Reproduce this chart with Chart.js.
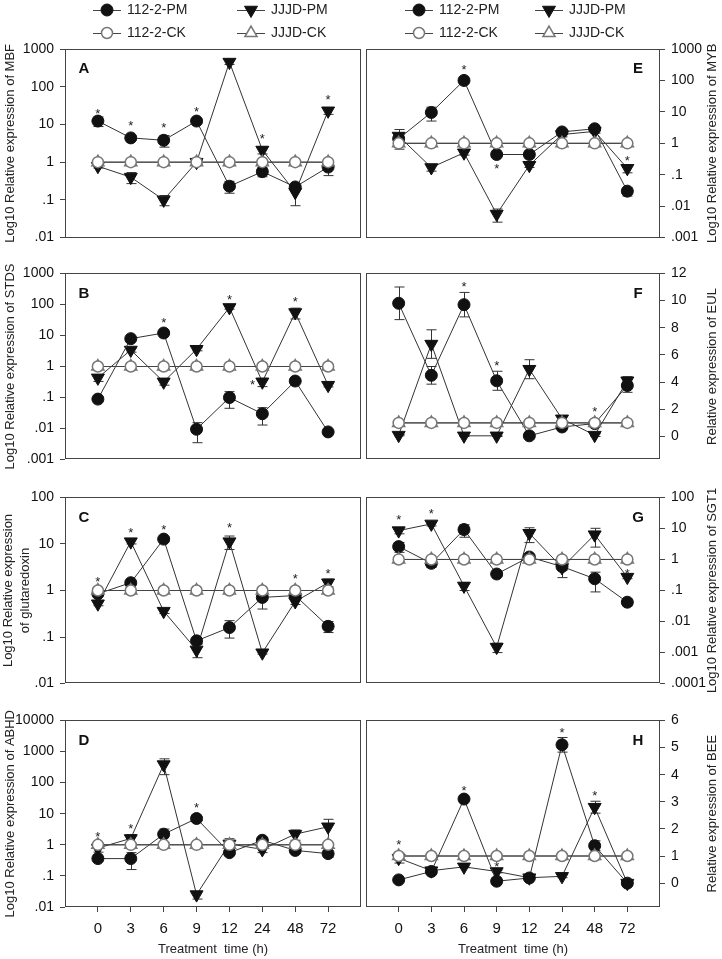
<!DOCTYPE html>
<html>
<head>
<meta charset="utf-8">
<script src="https://cdn.jsdelivr.net/npm/chart.js@4.4.0/dist/chart.umd.min.js"></script>
<style>
  html, body { margin: 0; padding: 0; background: #fff; }
  #page { position: relative; width: 722px; height: 959px; overflow: hidden; }
</style>
</head>
<body>
<div id="page"></div>
<script>
const timeLabels = ["0", "3", "6", "9", "12", "24", "48", "72"];
const ckLevel = [1, 1, 1, 1, 1, 1, 1, 1];
const logTicks = [0.0001, 0.001, 0.01, 0.1, 1, 10, 100, 1000, 10000];
const logTickText = [".0001", ".001", ".01", ".1", "1", "10", "100", "1000", "10000"];
const eulTicks = [0, 2, 4, 6, 8, 10, 12];
const beeTicks = [0, 1, 2, 3, 4, 5, 6];

// A - MBF
const mbf112 = [12.3, 4.4, 3.8, 12.3, 0.23, 0.56, 0.22, 0.74];
const mbf112Sd = [3.5, 0.6, 1.3, 1.5, 0.08, 0.15, 0.04, 0.3];
const mbfJjjd = [0.78, 0.4, 0.1, 1, 450, 2.1, 0.16, 23];
const mbfJjjdSd = [0.08, 0.13, 0.03, 0.1, 60, 0.45, 0.09, 4.5];
const mbfStars = [[0, 23], [1, 10.8], [2, 9.4], [3, 25], [5, 4.8], [7, 53]];

// B - STDS
const stds112 = [0.089, 7.9, 12, 0.0095, 0.1, 0.03, 0.34, 0.0078];
const stds112Sd = [0.015, 0.8, 1.5, 0.006, 0.055, 0.017, 0.04, 0.001];
const stdsJjjd = [0.43, 3.4, 0.32, 3.6, 80, 0.32, 55, 0.25];
const stdsJjjdSd = [0.1, 0.5, 0.07, 0.4, 10, 0.095, 21, 0.03];
const stdsStars = [[2, 32], [4, 175], [4.7, 0.32], [6, 155]];

// C - glutaredoxin
const grx112 = [0.85, 1.47, 12.7, 0.083, 0.16, 0.71, 0.78, 0.17];
const grx112Sd = [0.1, 0.1, 1.5, 0.01, 0.065, 0.31, 0.08, 0.045];
const grxJjjd = [0.52, 11.2, 0.36, 0.053, 11.2, 0.046, 0.58, 1.47];
const grxJjjdSd = [0.05, 1.2, 0.04, 0.017, 3.6, 0.003, 0.08, 0.28];
const grxStars = [[0, 1.74], [1, 20], [2, 23], [4, 25], [6, 2.04], [7, 2.6]];

// D - ABHD
const abhd112 = [0.36, 0.36, 2.2, 7, 0.56, 1.4, 0.66, 0.52];
const abhd112Sd = [0.05, 0.2, 1.0, 1.0, 0.1, 0.2, 0.1, 0.13];
const abhdJjjd = [0.78, 1.6, 380, 0.025, 1.07, 0.71, 2.2, 3.8];
const abhdJjjdSd = [0.2, 0.5, 200, 0.007, 0.5, 0.15, 0.8, 2.8];
const abhdStars = [[0, 2.3], [1, 4.1], [3, 19.7]];

// E - MYB
const myb112 = [1.4, 9.6, 100, 0.44, 0.44, 2.3, 2.9, 0.03];
const myb112Sd = [0.3, 4.5, 15, 0.05, 0.1, 0.4, 0.3, 0.009];
const mybJjjd = [1.7, 0.17, 0.5, 0.0056, 0.2, 1.9, 2.4, 0.16];
const mybJjjdSd = [1.05, 0.04, 0.08, 0.0025, 0.03, 0.3, 0.3, 0.045];
const mybStars = [[2, 265], [3, 0.19], [7, 0.33]];

// F - EUL
const eul112 = [9.8, 4.5, 9.7, 4.1, 0.05, 0.7, 0.95, 3.75];
const eul112Sd = [1.2, 0.65, 0.9, 0.7, 0.05, 0.1, 0.1, 0.5];
const eulJjjd = [0.1, 6.8, 0.05, 0.05, 4.95, 1.3, 0.1, 4.1];
const eulJjjdSd = [0.05, 1.05, 0.05, 0.05, 0.7, 0.2, 0.1, 0.3];
const eulStars = [[2, 11.2], [3, 5.4], [6, 2.05]];

// G - SGT1
const sgt112 = [2.6, 0.75, 9.2, 0.34, 1.2, 0.59, 0.24, 0.042];
const sgt112Sd = [0.9, 0.2, 4, 0.05, 0.2, 0.33, 0.15, 0.01];
const sgtJjjd = [8.5, 14, 0.14, 0.0015, 7, 0.55, 6.3, 0.27];
const sgtJjjdSd = [1.8, 2, 0.04, 0.0005, 3.5, 0.1, 3.8, 0.03];
const sgtStars = [[0, 22.6], [1, 37], [7, 0.44]];

// H - BEE
const bee112 = [0.12, 0.43, 3.1, 0.07, 0.19, 5.1, 1.38, 0];
const bee112Sd = [0.03, 0.05, 0.05, 0.05, 0.05, 0.27, 0.18, 0.03];
const beeJjjd = [0.92, 0.46, 0.6, 0.43, 0.2, 0.25, 2.8, 0];
const beeJjjdSd = [0.18, 0.03, 0.03, 0.05, 0.02, 0.05, 0.22, 0.03];
const beeStars = [[0, 1.51], [2, 3.52], [3, 0.7], [5, 5.64], [6, 3.32]];

const panels = [
  { letter: "A", row: 0, col: 0, min: 0.01, max: 1000, title: ["Log10 Relative expression of MBF"], pm: mbf112, pmSd: mbf112Sd, jd: mbfJjjd, jdSd: mbfJjjdSd, stars: mbfStars, legend: true },
  { letter: "B", row: 1, col: 0, min: 0.001, max: 1000, title: ["Log10 Relative expression of STDS"], pm: stds112, pmSd: stds112Sd, jd: stdsJjjd, jdSd: stdsJjjdSd, stars: stdsStars },
  { letter: "C", row: 2, col: 0, min: 0.01, max: 100, title: ["Log10 Relative expression", "of glutaredoxin"], pm: grx112, pmSd: grx112Sd, jd: grxJjjd, jdSd: grxJjjdSd, stars: grxStars },
  { letter: "D", row: 3, col: 0, min: 0.01, max: 10000, title: ["Log10 Relative expression of ABHD"], pm: abhd112, pmSd: abhd112Sd, jd: abhdJjjd, jdSd: abhdJjjdSd, stars: abhdStars },
  { letter: "E", row: 0, col: 1, min: 0.001, max: 1000, title: ["Log10 Relative expression of MYB"], pm: myb112, pmSd: myb112Sd, jd: mybJjjd, jdSd: mybJjjdSd, stars: mybStars, legend: true },
  { letter: "F", row: 1, col: 1, min: -1.7, max: 12, linTicks: eulTicks, title: ["Relative expression of EUL"], pm: eul112, pmSd: eul112Sd, jd: eulJjjd, jdSd: eulJjjdSd, stars: eulStars },
  { letter: "G", row: 2, col: 1, min: 0.0001, max: 100, title: ["Log10 Relative expression of SGT1"], pm: sgt112, pmSd: sgt112Sd, jd: sgtJjjd, jdSd: sgtJjjdSd, stars: sgtStars },
  { letter: "H", row: 3, col: 1, min: -0.88, max: 6, linTicks: beeTicks, title: ["Relative expression of BEE"], pm: bee112, pmSd: bee112Sd, jd: beeJjjd, jdSd: beeJjjdSd, stars: beeStars }
];

const plotTops = [49, 271, 495, 718];
const plotHeight = 189;
const columns = [
  { left: 0, width: 362, padLeft: 0, padRight: 1, axisWidth: 65, position: "left", titleX: [10], titleX2: [8, 25], legendX: [107, 251] },
  { left: 365, width: 357, padLeft: 1, padRight: 0, axisWidth: 62, position: "right", titleX: [712], titleX2: [704, 720], legendX: [419, 549] }
];
const legendRows = [10, 33];
const fontFamily = '"Liberation Sans", Arial, sans-serif';

Chart.defaults.font.family = fontFamily;
Chart.defaults.color = "#111";

function toPoints(values) {
  return values.map((v, i) => ({ x: i, y: v }));
}

function logLabel(v) {
  const i = logTicks.findIndex((t) => Math.abs(Math.log10(t) - Math.log10(v)) < 1e-6);
  return i >= 0 ? logTickText[i] : "";
}

function drawMarker(ctx, ds, x, y) {
  ctx.save();
  ctx.fillStyle = ds.pointBackgroundColor;
  ctx.strokeStyle = ds.pointBorderColor;
  ctx.lineWidth = ds.pointBorderWidth;
  Chart.helpers.drawPoint(ctx, {
    pointStyle: ds.pointStyle,
    radius: ds.pointRadius,
    rotation: ds.pointRotation || 0,
    borderWidth: ds.pointBorderWidth
  }, x, y);
  ctx.restore();
}

const decor = {
  id: "decor",
  beforeDatasetsDraw(chart) {
    const ctx = chart.ctx;
    const xs = chart.scales.x;
    const ys = chart.scales.y;
    const a = chart.chartArea;
    const isLog = ys.type === "logarithmic";
    ctx.save();
    ctx.beginPath();
    ctx.rect(a.left, a.top, a.width, a.height);
    ctx.clip();
    ctx.strokeStyle = "#333";
    ctx.lineWidth = 1;
    chart.data.datasets.forEach((ds) => {
      if (!ds.sd) return;
      ds.data.forEach((p, i) => {
        const s = ds.sd[i];
        if (!s) return;
        const px = Math.round(xs.getPixelForValue(p.x)) + 0.5;
        const top = ys.getPixelForValue(p.y + s);
        const noLow = isLog && p.y - s <= 0;
        const bottom = noLow ? ys.getPixelForValue(p.y) : ys.getPixelForValue(p.y - s);
        ctx.beginPath();
        ctx.moveTo(px, top);
        ctx.lineTo(px, bottom);
        ctx.moveTo(px - 5, top);
        ctx.lineTo(px + 5, top);
        if (!noLow) {
          ctx.moveTo(px - 5, bottom);
          ctx.lineTo(px + 5, bottom);
        }
        ctx.stroke();
      });
    });
    ctx.restore();
  },
  afterDatasetsDraw(chart) {
    const ctx = chart.ctx;
    const p = chart.canvas.panel;
    const col = columns[p.col];
    const a = chart.chartArea;
    const xs = chart.scales.x;
    const ys = chart.scales.y;
    ctx.save();
    // frame
    ctx.strokeStyle = "#444";
    ctx.lineWidth = 1;
    ctx.strokeRect(Math.round(a.left) + 0.5, Math.round(a.top) + 0.5, Math.round(a.width) - 1, Math.round(a.height) - 1);
    // significance stars
    ctx.fillStyle = "#222";
    ctx.font = "13px " + fontFamily;
    ctx.textAlign = "center";
    ctx.textBaseline = "alphabetic";
    p.stars.forEach(([xi, v]) => {
      ctx.fillText("*", xs.getPixelForValue(xi), ys.getPixelForValue(v) + 7);
    });
    // panel letter
    ctx.fillStyle = "#111";
    ctx.font = "bold 15px " + fontFamily;
    ctx.textBaseline = "middle";
    const lx = col.position === "left" ? a.left + 19 : a.right - 22;
    ctx.fillText(p.letter, lx, a.top + 20);
    ctx.restore();
  },
  afterDraw(chart) {
    const ctx = chart.ctx;
    const p = chart.canvas.panel;
    const col = columns[p.col];
    const a = chart.chartArea;
    ctx.save();
    // y axis title, rotated to read bottom to top
    ctx.fillStyle = "#222";
    ctx.font = "13px " + fontFamily;
    ctx.textAlign = "center";
    ctx.textBaseline = "middle";
    const xsPos = p.title.length > 1 ? col.titleX2 : col.titleX;
    p.title.forEach((line, i) => {
      ctx.save();
      ctx.translate(xsPos[i] - col.left, (a.top + a.bottom) / 2);
      ctx.rotate(-Math.PI / 2);
      ctx.fillText(line, 0, 0);
      ctx.restore();
    });
    // legend above the top panels
    if (p.legend) {
      const ds = chart.data.datasets;
      const rows = [[ds[2], ds[3]], [ds[0], ds[1]]];
      ctx.font = "14px " + fontFamily;
      ctx.textAlign = "left";
      rows.forEach((items, r) => {
        items.forEach((d, k) => {
          const mx = col.legendX[k] - col.left;
          const my = legendRows[r];
          ctx.strokeStyle = "#444";
          ctx.lineWidth = 1;
          ctx.beginPath();
          ctx.moveTo(mx - 14, my + 0.5);
          ctx.lineTo(mx + 14, my + 0.5);
          ctx.stroke();
          drawMarker(ctx, d, mx, my);
          ctx.fillStyle = "#222";
          ctx.fillText(d.label, mx + 20, my);
        });
      });
    }
    ctx.restore();
  }
};

const page = document.getElementById("page");

panels.forEach((p) => {
  const col = columns[p.col];
  const plotTop = plotTops[p.row];
  const bottomRow = p.row === 3;
  const canvasTop = p.row === 0 ? 0 : plotTop - 12;
  const xAxisHeight = bottomRow ? 52 : 14;
  const height = bottomRow ? 959 - canvasTop : plotTop + plotHeight + xAxisHeight - canvasTop;
  const isLog = !p.linTicks;
  const yTickValues = isLog ? logTicks.filter((t) => t >= p.min * 0.999 && t <= p.max * 1.001) : p.linTicks;

  const canvas = document.createElement("canvas");
  canvas.width = col.width;
  canvas.height = height;
  canvas.style.cssText = "position:absolute;left:" + col.left + "px;top:" + canvasTop + "px;width:" + col.width + "px;height:" + height + "px";
  canvas.panel = p;
  page.appendChild(canvas);

  new Chart(canvas.getContext("2d"), {
    type: "line",
    data: {
      datasets: [
        {
          label: "112-2-CK", data: toPoints(ckLevel),
          borderColor: "#444", borderWidth: 1,
          pointStyle: "circle", pointRadius: 5.5, pointBackgroundColor: "#fff", pointBorderColor: "#777", pointBorderWidth: 1.5
        },
        {
          label: "JJJD-CK", data: toPoints(ckLevel),
          borderColor: "#444", borderWidth: 1,
          pointStyle: "triangle", pointRadius: 7, pointBackgroundColor: "#fff", pointBorderColor: "#777", pointBorderWidth: 1.5
        },
        {
          label: "112-2-PM", data: toPoints(p.pm), sd: p.pmSd,
          borderColor: "#333", borderWidth: 1,
          pointStyle: "circle", pointRadius: 6, pointBackgroundColor: "#111", pointBorderColor: "#111", pointBorderWidth: 1
        },
        {
          label: "JJJD-PM", data: toPoints(p.jd), sd: p.jdSd,
          borderColor: "#333", borderWidth: 1,
          pointStyle: "triangle", pointRotation: 180, pointRadius: 7.5, pointBackgroundColor: "#111", pointBorderColor: "#111", pointBorderWidth: 1
        }
      ]
    },
    options: {
      responsive: false,
      animation: false,
      devicePixelRatio: 1,
      events: [],
      layout: { autoPadding: false, padding: { top: plotTop - canvasTop, bottom: 0, left: col.padLeft, right: col.padRight } },
      elements: { line: { tension: 0 } },
      plugins: { legend: { display: false }, tooltip: { enabled: false } },
      scales: {
        x: {
          type: "linear", min: -1, max: 8,
          afterBuildTicks: (s) => { s.ticks = timeLabels.map((_, i) => ({ value: i })); },
          afterFit: (s) => { s.height = xAxisHeight; },
          ticks: { display: bottomRow, autoSkip: false, maxRotation: 0, font: { size: 15 }, padding: 8, callback: (v) => timeLabels[v] },
          grid: { display: bottomRow, drawOnChartArea: false, tickLength: 5, color: "#444" },
          border: { display: false },
          title: { display: bottomRow, text: "Treatment  time (h)", font: { size: 13 }, color: "#222", padding: { top: 0, bottom: 2 } }
        },
        y: {
          type: isLog ? "logarithmic" : "linear",
          position: col.position,
          min: p.min, max: p.max,
          afterBuildTicks: (s) => { s.ticks = yTickValues.map((v) => ({ value: v })); },
          afterFit: (s) => { s.width = col.axisWidth; },
          ticks: { autoSkip: false, font: { size: 14 }, padding: 6, callback: (v) => (isLog ? logLabel(v) : String(v)) },
          grid: { drawOnChartArea: false, tickLength: 5, color: "#444" },
          border: { display: false }
        }
      }
    },
    plugins: [decor]
  });
});
</script>
</body>
</html>
